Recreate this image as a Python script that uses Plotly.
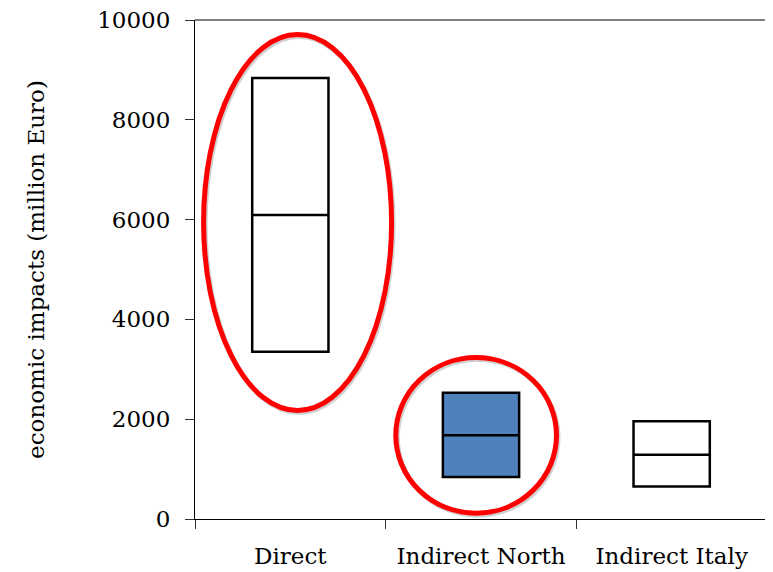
import plotly.graph_objects as go

categories = ["Direct", "Indirect North", "Indirect Italy"]
q1_values = [3350, 840, 650]
median_values = [6090, 1680, 1290]
q3_values = [8840, 2530, 1960]
fill_colors = ["white", "#4F81BD", "white"]

y_ticks = [0, 2000, 4000, 6000, 8000, 10000]

FONT = "DejaVu Serif"
FS = 23

fig = go.Figure()
for cat, q1, med, q3, fc in zip(categories, q1_values, median_values, q3_values, fill_colors):
    fig.add_trace(go.Box(
        x=[cat], q1=[q1], median=[med], q3=[q3],
        lowerfence=[q1], upperfence=[q3],
        fillcolor=fc, line=dict(color="black", width=2.5),
        width=0.4, boxpoints=False, showlegend=False, hoverinfo="skip",
    ))

# shadows of ellipses, then ellipses
for (x0, x1, y0, y1) in [(-0.455, 0.531, 2174, 9709), (0.553, 1.396, 116, 3236)]:
    fig.add_shape(type="circle", xref="x", yref="y", x0=x0 + 0.008, x1=x1 + 0.008,
                  y0=y0 - 40, y1=y1 - 40,
                  line=dict(color="rgba(0,0,0,0.18)", width=5), layer="above")
    fig.add_shape(type="circle", xref="x", yref="y", x0=x0, x1=x1, y0=y0, y1=y1,
                  line=dict(color="#FF0000", width=5), layer="above")

# top and right frame lines
fig.add_shape(type="line", xref="paper", yref="paper", x0=0, x1=1, y0=1, y1=1,
              line=dict(color="#555555", width=1.5))
fig.add_shape(type="line", xref="paper", yref="paper", x0=1, x1=1, y0=0, y1=1,
              line=dict(color="#555555", width=1.5))

fig.update_layout(
    width=765, height=564,
    margin=dict(l=187, r=6, t=12, b=53, autoexpand=False),
    plot_bgcolor="white", paper_bgcolor="white",
    font=dict(family=FONT, size=FS, color="black"),
    boxmode="overlay",
    xaxis=dict(
        type="category", categoryorder="array", categoryarray=categories,
        range=[-0.5, 2.5], tickson="boundaries", ticks="outside", ticklen=9,
        tickcolor="#333333", showline=True, linecolor="black", linewidth=1,
        showgrid=False, zeroline=False, ticklabelstandoff=16, automargin=False,
        tickfont=dict(family=FONT, size=FS),
    ),
    yaxis=dict(
        range=[0, 10000], tickvals=y_ticks, ticktext=[str(v) for v in y_ticks],
        ticks="outside", ticklen=9, tickcolor="#333333",
        showline=True, linecolor="black", linewidth=1,
        showgrid=False, zeroline=False, ticklabelstandoff=10, automargin=False,
        ticklabeloverflow="allow",
        tickfont=dict(family=FONT, size=FS),
        title=dict(text="economic impacts (million Euro)", font=dict(family=FONT, size=FS),
                   standoff=46),
    ),
)

fig.write_html("out.html")
